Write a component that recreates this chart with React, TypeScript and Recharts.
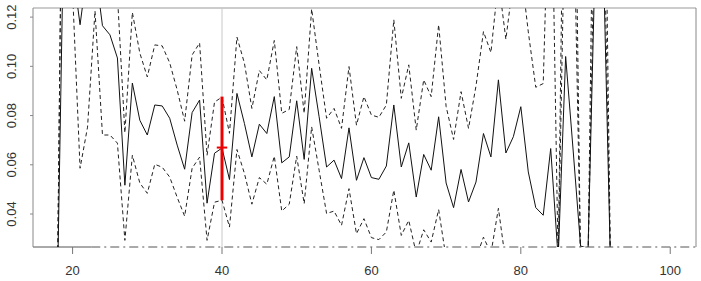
import { LineChart, Line, XAxis, YAxis, ReferenceLine } from 'recharts'

// x positions (ages)
const ages = [
  18, 19, 20, 21, 22, 23, 24, 25, 26, 27, 28, 29, 30, 31, 32, 33, 34, 35, 36, 37, 38, 39, 40,
  41, 42, 43, 44, 45, 46, 47, 48, 49, 50, 51, 52, 53, 54, 55, 56, 57, 58, 59, 60, 61, 62, 63,
  64, 65, 66, 67, 68, 69, 70, 71, 72, 73, 74, 75, 76, 77, 78, 79, 80, 81, 82, 83, 84, 85, 86,
  87, 88, 89, 90, 91, 92,
]

// point estimate (solid)
const estimate = [
  0.015, 0.19, 0.14, 0.1169, 0.14, 0.14, 0.1165, 0.1128, 0.1034, 0.0517, 0.0932, 0.0781, 0.0721,
  0.0843, 0.0839, 0.0789, 0.068, 0.0582, 0.0812, 0.0863, 0.0444, 0.0647, 0.0668,
  0.054, 0.089, 0.0768, 0.0632, 0.0765, 0.0727, 0.0877, 0.0608, 0.0632, 0.086, 0.0622, 0.0992,
  0.0795, 0.0591, 0.0619, 0.0544, 0.075, 0.0537, 0.0629, 0.0548, 0.0541, 0.0595, 0.0843,
  0.0591, 0.0689, 0.0469, 0.0642, 0.0578, 0.0795, 0.0526, 0.0426, 0.0581, 0.0449, 0.053, 0.0727,
  0.0632, 0.0945, 0.0648, 0.0714, 0.0836, 0.0571, 0.0426, 0.0395, 0.0666, 0.022, 0.104,
  0.066, 0.027, 0.026, 0.15, 0.15, 0.02,
]

// upper band (dashed)
const upper = [
  0.02, 0.3, 0.3, 0.2, 0.2, 0.2, 0.2, 0.2, 0.129, 0.073, 0.1219, 0.1054, 0.0957,
  0.1087, 0.1083, 0.1014, 0.0904, 0.0777, 0.1046, 0.1095, 0.0639, 0.0855, 0.0875,
  0.0728, 0.1119, 0.1013, 0.0829, 0.0983, 0.0945, 0.1105, 0.0809, 0.0825, 0.108, 0.0809, 0.1233,
  0.1006, 0.0789, 0.0829, 0.0748, 0.0999, 0.0761, 0.0877, 0.0802, 0.0793, 0.0843, 0.1189,
  0.087, 0.1006, 0.0741, 0.0945, 0.0877, 0.1169, 0.0837, 0.0703, 0.0897, 0.0748, 0.092, 0.1141,
  0.1056, 0.135, 0.111, 0.135, 0.14, 0.114, 0.0915, 0.093, 0.2, 0.02, 0.25,
  0.25, 0.02, 0.02, 0.25, 0.25, 0.02,
]

// lower band (dashed)
const lower = [
  0.02, 0.3, 0.13, 0.0586, 0.0753, 0.1225, 0.0721, 0.0721, 0.0688, 0.0293, 0.0639, 0.0526, 0.0484,
  0.0602, 0.059, 0.055, 0.0468, 0.0391, 0.0586, 0.0631, 0.0293, 0.0448, 0.0456,
  0.0347, 0.0662, 0.0565, 0.044, 0.0548, 0.0521, 0.0635, 0.0412, 0.044, 0.0635, 0.0442, 0.0754,
  0.0578, 0.0402, 0.0412, 0.0354, 0.0503, 0.032, 0.0381, 0.0304, 0.0296, 0.0327, 0.0497,
  0.0313, 0.0374, 0.024, 0.0336, 0.0286, 0.0418, 0.022, 0.018, 0.022, 0.02, 0.022, 0.0306,
  0.024, 0.0423, 0.02, 0.02, 0.02, 0.02, 0.02, 0.02, 0.02, 0.02, 0.18,
  0.18, 0.02, 0.02, 0.18, 0.18, 0.02,
]

const xTicks = [20, 40, 60, 80, 100]
const yTicks = [0.04, 0.06, 0.08, 0.1, 0.12]

// highlighted interval
const markX = 40
const markEst = 0.067
const markLo = 0.0456
const markHi = 0.0877

const xMin = 14.7
const xMax = 103.45
const yMin = 0.0266
const yMax = 0.1237

const data = ages.map((age, i) => ({
  age,
  est: estimate[i],
  hi: upper[i],
  lo: lower[i],
}))

const font = '"Liberation Sans", Arial, sans-serif'

function YTick({ y, payload }: any) {
  return (
    <text
      x={16}
      y={y}
      transform={`rotate(-90, 16, ${y})`}
      textAnchor="middle"
      fontSize={13}
      fill="#333"
      fontFamily={font}
    >
      {Number(payload.value).toFixed(2)}
    </text>
  )
}

export default function App() {
  return (
    <div style={{ position: 'absolute', left: 0, top: 0 }}>
      <LineChart
        width={701}
        height={281}
        data={data}
        margin={{ top: 8, right: 5, bottom: 0, left: 0 }}
      >
        <XAxis
          dataKey="age"
          type="number"
          domain={[xMin, xMax]}
          allowDataOverflow
          ticks={xTicks}
          axisLine={false}
          tickLine={{ stroke: '#777' }}
          tickSize={7}
          tickMargin={12}
          height={34}
          tick={{ fontSize: 13, fill: '#333', fontFamily: font }}
        />
        <YAxis
          type="number"
          domain={[yMin, yMax]}
          allowDataOverflow
          ticks={yTicks}
          width={33}
          axisLine={{ stroke: '#888' }}
          tickLine={{ stroke: '#888' }}
          tickSize={3}
          tick={<YTick />}
        />
        <ReferenceLine y={yMax} stroke="#999" />
        <ReferenceLine x={xMax} stroke="#888" />
        <ReferenceLine
          segment={[{ x: xMin, y: yMin }, { x: 22.5, y: yMin }]}
          stroke="#555"
        />
        <ReferenceLine
          segment={[{ x: 22.5, y: yMin }, { x: xMax, y: yMin }]}
          stroke="#555"
          strokeDasharray="9 4 2 4"
        />
        <ReferenceLine x={markX} stroke="#c8c8c8" />
        <Line
          dataKey="hi"
          stroke="#222"
          strokeWidth={1}
          strokeDasharray="4 3"
          dot={false}
          isAnimationActive={false}
        />
        <Line
          dataKey="lo"
          stroke="#222"
          strokeWidth={1}
          strokeDasharray="4 3"
          dot={false}
          isAnimationActive={false}
        />
        <Line
          dataKey="est"
          stroke="#111"
          strokeWidth={1}
          dot={false}
          isAnimationActive={false}
        />
        <ReferenceLine
          segment={[{ x: markX, y: markLo }, { x: markX, y: markHi }]}
          stroke="#ee0000"
          strokeWidth={3}
        />
        <ReferenceLine
          segment={[{ x: markX - 0.7, y: markEst }, { x: markX + 0.7, y: markEst }]}
          stroke="#ee0000"
          strokeWidth={2}
        />
      </LineChart>
    </div>
  )
}
